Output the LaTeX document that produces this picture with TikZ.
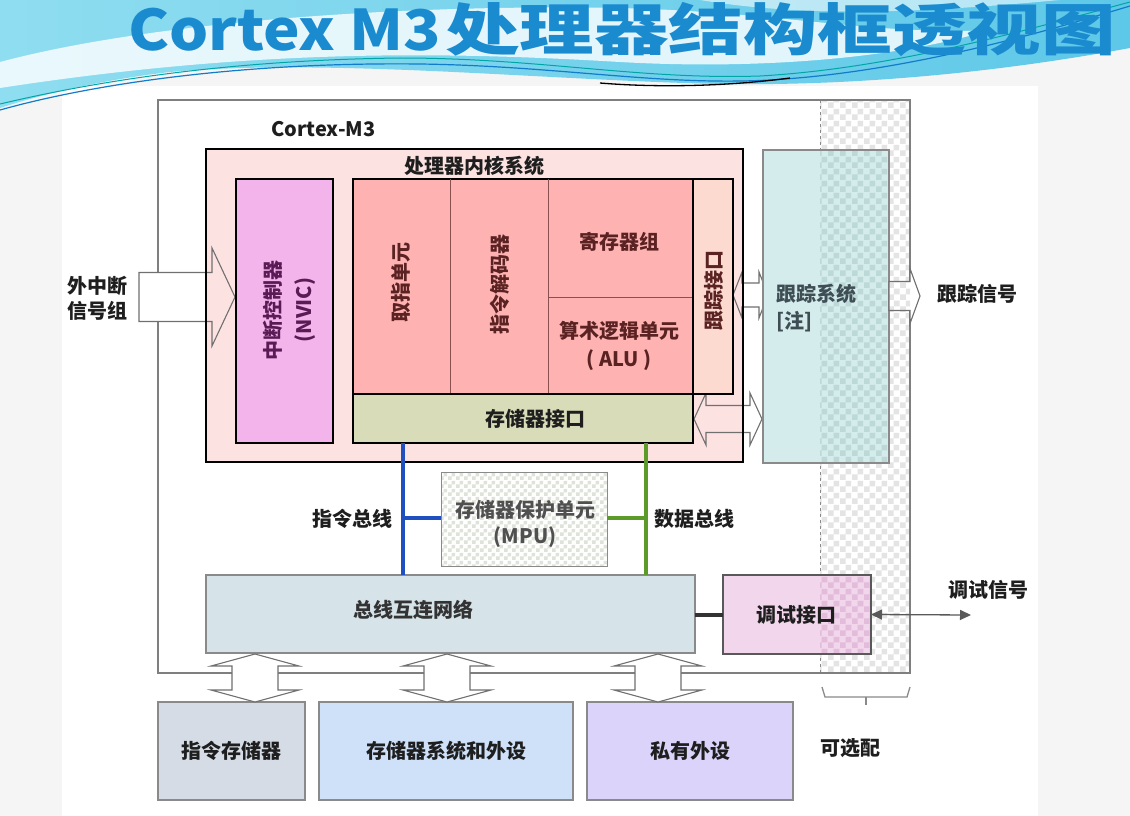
\documentclass[tikz,border=0pt]{standalone}
\usepackage{fontspec}
\setmainfont{Noto Sans CJK SC}
\usetikzlibrary{patterns,arrows.meta,calc}
\definecolor{txt}{HTML}{1E1E1E}
\definecolor{coretxt}{HTML}{5A2222}
\definecolor{nvictxt}{HTML}{5A1A55}
\definecolor{tracetxt}{HTML}{3E4E54}
\definecolor{mputxt}{HTML}{505050}
\definecolor{titleblue}{HTML}{1B8BD0}
\definecolor{titledark}{HTML}{0E5F95}
\definecolor{hdrA}{HTML}{8FDDF0}
\definecolor{hdrB}{HTML}{5EC8E8}
\definecolor{pagegray}{HTML}{F5F5F5}
\definecolor{outergray}{HTML}{7F7F7F}
\definecolor{corepink}{HTML}{FDE2E2}
\definecolor{nvicfill}{HTML}{F2B4EA}
\definecolor{unitfill}{HTML}{FFB2B2}
\definecolor{unitline}{HTML}{8A5050}
\definecolor{tifill}{HTML}{FDDAD0}
\definecolor{memiffill}{HTML}{D9DCB9}
\definecolor{tracefill}{HTML}{D4ECEB}
\definecolor{tracechk}{HTML}{BCD9D8}
\definecolor{chkgray}{HTML}{E4E4E4}
\definecolor{mpuchk}{HTML}{DDE3D8}
\definecolor{busfill}{HTML}{D6E4EA}
\definecolor{dbgfill}{HTML}{F2D6EC}
\definecolor{dbgchk}{HTML}{E2BCDA}
\definecolor{imemfill}{HTML}{D5DCE6}
\definecolor{msysfill}{HTML}{CFE1F9}
\definecolor{privfill}{HTML}{DBD3FA}
\definecolor{boxgray}{HTML}{8A8A8A}
\definecolor{arrowgray}{HTML}{707070}
\definecolor{ibus}{HTML}{2050C0}
\definecolor{dbus}{HTML}{5C9A2A}
\pgfdeclarepatternformonly{chk}{\pgfqpoint{0pt}{0pt}}{\pgfqpoint{12pt}{12pt}}{\pgfqpoint{12pt}{12pt}}{%
  \pgfpathrectangle{\pgfqpoint{0pt}{0pt}}{\pgfqpoint{6pt}{6pt}}%
  \pgfpathrectangle{\pgfqpoint{6pt}{6pt}}{\pgfqpoint{6pt}{6pt}}%
  \pgfusepath{fill}}
\pgfdeclarepatternformonly{chks}{\pgfqpoint{0pt}{0pt}}{\pgfqpoint{8pt}{8pt}}{\pgfqpoint{8pt}{8pt}}{%
  \pgfpathrectangle{\pgfqpoint{0pt}{0pt}}{\pgfqpoint{4pt}{4pt}}%
  \pgfpathrectangle{\pgfqpoint{4pt}{4pt}}{\pgfqpoint{4pt}{4pt}}%
  \pgfusepath{fill}}
% box node: name, x1, y1, x2, y2, style
\newcommand\mybox[6]{\node[boxnode,#6,minimum width={#4-#2},minimum height={#5-#3}] (#1) at (#2,#3) {};}
% horizontal double hollow arrow: style, xleft, xright, yc, headhalf, shafthalf, headlen
\newcommand\hdarr[7]{\path[#1] (#2,#4) -- ({#2+#7},{#4-#5}) -- ({#2+#7},{#4-#6}) -- ({#3-#7},{#4-#6}) -- ({#3-#7},{#4-#5}) -- (#3,#4) -- ({#3-#7},{#4+#5}) -- ({#3-#7},{#4+#6}) -- ({#2+#7},{#4+#6}) -- ({#2+#7},{#4+#5}) -- cycle;}
% vertical double hollow arrow: style, xc, ytop, ybot, headhalf, shafthalf, headlen
\newcommand\vdarr[7]{\path[#1] (#2,#3) -- ({#2+#5},{#3+#7}) -- ({#2+#6},{#3+#7}) -- ({#2+#6},{#4-#7}) -- ({#2+#5},{#4-#7}) -- (#2,#4) -- ({#2-#5},{#4-#7}) -- ({#2-#6},{#4-#7}) -- ({#2-#6},{#3+#7}) -- ({#2-#5},{#3+#7}) -- cycle;}
% single right hollow arrow: style, xleft, xtip, yc, headhalf, shafthalf, headlen
\newcommand\hsarr[7]{\path[#1] (#2,{#4-#6}) -- ({#3-#7},{#4-#6}) -- ({#3-#7},{#4-#5}) -- (#3,#4) -- ({#3-#7},{#4+#5}) -- ({#3-#7},{#4+#6}) -- (#2,{#4+#6}) -- cycle;}
\begin{document}
\begin{tikzpicture}[x=1pt,y=-1pt,
  boxnode/.style={inner sep=0pt, outer sep=0pt, anchor=north west},
  lbl/.style={font=\fontsize{20}{25}\selectfont\bfseries, inner sep=0pt, align=center, text=txt},
  hollowline/.style={draw=arrowgray, line width=1.1pt, line join=miter},
  graybox/.style={draw=boxgray, line width=1.1pt},
  blackbox/.style={draw=black, line width=1.8pt},
  titlefont/.style={font=\fontsize{56}{56}\selectfont\bfseries, text=titleblue, inner sep=0pt, anchor=base west},
]
\useasboundingbox (0,0) rectangle (1130,816);
% page background
\fill[pagegray] (0,0) rectangle (1130,816);
\fill[white] (62,86) rectangle (1038,816);
% header band
\shade[left color=hdrA, right color=hdrB] (0,0) -- (1130,0) -- (1130,48) .. controls (1000,72) and (860,86) .. (720,84) .. controls (540,80) and (330,58) .. (170,72) .. controls (100,80) and (40,95) .. (0,108) -- cycle;
\fill[white, opacity=0.8] (0,62) .. controls (150,22) and (400,4) .. (620,8) .. controls (780,12) and (880,36) .. (990,30) .. controls (900,58) and (760,70) .. (620,62) .. controls (450,52) and (260,48) .. (0,88) -- cycle;
\fill[white, opacity=0.55] (700,0) .. controls (820,20) and (950,10) .. (1060,0) -- cycle;
\draw[cyan!60!blue, line width=1.2pt] (0,110) .. controls (100,82) and (250,62) .. (420,64) .. controls (560,66) and (660,86) .. (770,80) .. controls (910,72) and (1050,30) .. (1130,6);
\draw[teal!70!cyan, line width=1pt] (0,104) .. controls (110,78) and (240,60) .. (400,58) .. controls (540,58) and (640,80) .. (760,76) .. controls (900,68) and (1040,26) .. (1130,2);
\draw[black, line width=1.3pt] (600,83) .. controls (660,88) and (730,86) .. (790,78);
% title
\node[titlefont, xscale=1.1] (titlelat) at (128,51) {Cortex M3};
\node[titlefont, xscale=1.33] (titlecjk) at (445,51) {处理器结构框透视图};

% optional (dashed) region
\fill[white] (820,100) rectangle (910,673);
\fill[pattern=chk, pattern color=chkgray] (820,100) rectangle (910,673);
\draw[boxgray, line width=1pt, dashed] (820,100) -- (820,673);
% Cortex-M3 outer box
\mybox{cm3}{158}{100}{910}{673}{graybox, draw=outergray}
\node[lbl, anchor=west] (cm3lbl) at (271,129) {Cortex-M3};

% hollow arrow fills under core box
\hsarr{fill=white}{139}{235}{297}{49}{24.5}{23}
\hdarr{fill=white}{733}{768}{295}{23}{12}{9}
\hdarr{fill=white}{694}{762}{419}{26}{13.5}{12}
% core system box
\mybox{core}{206}{149}{743}{462}{fill=corepink}
\hsarr{hollowline}{139}{235}{297}{49}{24.5}{23}
\hdarr{hollowline}{733}{768}{295}{23}{12}{9}
\hdarr{hollowline}{694}{762}{419}{26}{13.5}{12}
\draw[black, line width=2.2pt] (core.north west) rectangle (core.south east);
\node[lbl] (corelbl) at (474,166) {处理器内核系统};

% NVIC
\mybox{nvic}{236}{179}{333}{443}{fill=nvicfill, blackbox}
\node[lbl, text=nvictxt, rotate=90, font=\fontsize{20}{31}\selectfont\bfseries] (nvictext) at (289,310) {中断控制器\\(NVIC)};
% core units
\mybox{units}{353}{179}{693}{394}{fill=unitfill, blackbox}
\coordinate (d1) at (450,0);
\coordinate (d2) at (548,0);
\coordinate (d3) at (0,297);
\draw[unitline, line width=1pt] (units.north -| d1) -- (units.south -| d1);
\draw[unitline, line width=1pt] (units.north -| d2) -- (units.south -| d2);
\draw[unitline, line width=1pt] (d2 |- d3) -- (units.east |- d3);
\node[lbl, text=coretxt, rotate=90] (fetch) at (401,282) {取指单元};
\node[lbl, text=coretxt, rotate=90] (decode) at (500,284) {指令解码器};
\node[lbl, text=coretxt] (regs) at (619,242) {寄存器组};
\node[lbl, text=coretxt, font=\fontsize{20}{28}\selectfont\bfseries] (alu) at (619,346) {算术逻辑单元\\( ALU )};
% trace interface
\mybox{tif}{693}{179}{733}{394}{fill=tifill, blackbox}
\node[lbl, text=coretxt, rotate=90] (tiftext) at (714,290) {跟踪接口};
% memory interface
\mybox{memif}{353}{394}{693}{443}{fill=memiffill, blackbox}
\node[lbl] (memiftext) at (535,419) {存储器接口};

% trace system
\mybox{trace}{763}{150}{889}{463}{fill=tracefill}
\fill[pattern=chk, pattern color=tracechk] (820,150) rectangle (889,463);
\draw[boxgray, line width=1.1pt] (trace.north west) rectangle (trace.south east);
\node[lbl, text=tracetxt, anchor=west] (tracetext) at (776,294) {跟踪系统};
\node[lbl, text=tracetxt, anchor=west] (tracenote) at (776,322) {[注]};
% trace out arrow
\hsarr{fill=white}{889}{920}{296}{27.5}{14.5}{10}
\fill[pattern=chk, pattern color=chkgray] (889,281.5) rectangle (910,310.5);
\hsarr{hollowline}{889}{920}{296}{27.5}{14.5}{10}
\node[lbl] (traceout) at (977,294) {跟踪信号};
\node[lbl] (extint) at (97,298) {外中断\\信号组};

% MPU
\mybox{mpu}{441}{472}{607}{566}{fill=white}
\fill[pattern=chks, pattern color=mpuchk] (mpu.north west) rectangle (mpu.south east);
\draw[boxgray, line width=1pt] (mpu.north west) rectangle (mpu.south east);
\node[lbl, text=mputxt, font=\fontsize{20}{26}\selectfont\bfseries] (mputext) at (525,524) {存储器保护单元\\(MPU)};

% bus interconnect
\mybox{bus}{206}{575}{695}{653}{fill=busfill, graybox}
\node[lbl, text=black!80] (bustext) at (413,610) {总线互连网络};

% buses
\coordinate (ibx) at (403,0);
\coordinate (dbx) at (646,0);
\coordinate (by) at (0,518);
\draw[ibus, line width=3.5pt] (memif.south -| ibx) -- (bus.north -| ibx);
\draw[ibus, line width=3.5pt] (ibx |- by) -- (mpu.west |- by);
\draw[dbus, line width=3.5pt] (memif.south -| dbx) -- (bus.north -| dbx);
\draw[dbus, line width=3.5pt] (dbx |- by) -- (mpu.east |- by);
\node[lbl] (ibuslbl) at (352,519) {指令总线};
\node[lbl] (dbuslbl) at (694,519) {数据总线};

% debug interface
\mybox{dbg}{723}{575}{871}{654}{fill=dbgfill}
\fill[pattern=chk, pattern color=dbgchk] (820,575) rectangle (871,654);
\draw[black!65, line width=1.1pt] (dbg.north west) rectangle (dbg.south east);
\node[lbl] (dbgtext) at (796,615) {调试接口};
\draw[black!80, line width=4pt] (bus.east |- dbg.west) -- (dbg.west);
\coordinate (dbgend) at (971,615);
\draw[black!65, line width=1.3pt, {Triangle[length=11pt,width=10pt]}-{Triangle[length=11pt,width=10pt]}] (dbg.east) -- (dbgend);
\node[lbl] (dbgsig) at (988,590) {调试信号};

% bracket for optional part
\draw[boxgray, line width=1.3pt] (822,687) -- (825,697) -- (907,697) -- (910,687);
\draw[boxgray, line width=1.3pt] (866,697) -- (866,705);
\node[lbl] (optlbl) at (850,748) {可选配};

% bottom boxes
\mybox{imem}{158}{702}{305}{800}{fill=imemfill, graybox}
\node[lbl] (imemtext) at (imem.center) {指令存储器};
\mybox{msys}{319}{702}{573}{800}{fill=msysfill, graybox}
\node[lbl] (msystext) at (msys.center) {存储器系统和外设};
\mybox{priv}{587}{702}{793}{800}{fill=privfill, graybox}
\node[lbl] (privtext) at (priv.center) {私有外设};

% vertical hollow double arrows
\vdarr{fill=white, hollowline}{255}{654}{702}{44}{23}{12}
\vdarr{fill=white, hollowline}{447}{654}{702}{44}{23}{12}
\vdarr{fill=white, hollowline}{658}{654}{702}{44}{23}{12}
\end{tikzpicture}
\end{document}
